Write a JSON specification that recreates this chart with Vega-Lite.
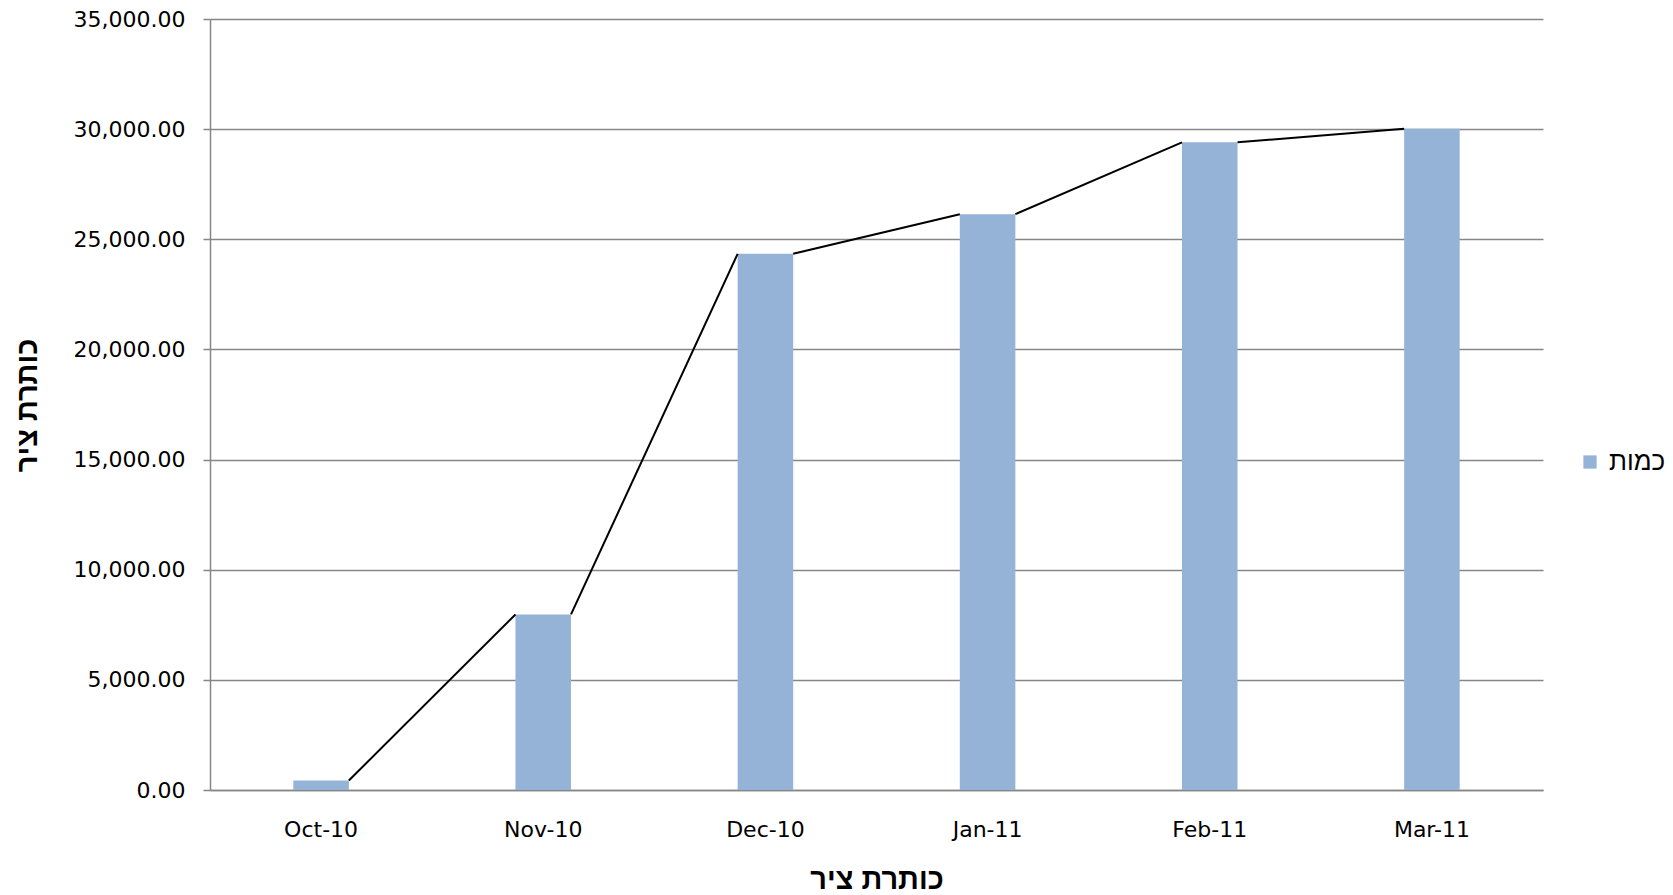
{
  "$schema": "https://vega.github.io/schema/vega-lite/v6.json",
  "autosize": "none",
  "padding": {"left": 210, "top": 19, "right": 130, "bottom": 105},
  "width": 1333,
  "height": 771,
  "background": "white",
  "config": {
    "view": {"stroke": null},
    "font": "DejaVu Sans"
  },
  "data": {
    "values": [
      {"month": "Oct-10", "value": 430, "series": "כמות"},
      {"month": "Nov-10", "value": 7970, "series": "כמות"},
      {"month": "Dec-10", "value": 24340, "series": "כמות"},
      {"month": "Jan-11", "value": 26140, "series": "כמות"},
      {"month": "Feb-11", "value": 29400, "series": "כמות"},
      {"month": "Mar-11", "value": 30020, "series": "כמות"}
    ]
  },
  "layer": [
    {
      "mark": {"type": "bar", "width": {"band": 0.25}},
      "encoding": {
        "x": {
          "field": "month",
          "type": "ordinal",
          "sort": null,
          "scale": {"paddingInner": 0, "paddingOuter": 0},
          "axis": {
            "title": "כותרת ציר",
            "titleFont": "Liberation Sans",
            "titleFontSize": 29,
            "titleFontWeight": "bold",
            "titleColor": "#000000",
            "titleY": 89,
            "titleBaseline": "middle",
            "labelAngle": 0,
            "labelFont": "DejaVu Sans",
            "labelFontSize": 22,
            "labelColor": "#000000",
            "labelPadding": 29,
            "ticks": false,
            "domainColor": "#868686",
            "domainWidth": 1.5,
            "grid": false
          }
        },
        "y": {
          "field": "value",
          "type": "quantitative",
          "scale": {"domain": [0, 35000], "nice": false},
          "axis": {
            "title": "כותרת ציר",
            "titleFont": "Liberation Sans",
            "titleFontSize": 29,
            "titleFontWeight": "bold",
            "titleColor": "#000000",
            "titleX": -183,
            "titleY": 386,
            "titleBaseline": "middle",
            "values": [0, 5000, 10000, 15000, 20000, 25000, 30000, 35000],
            "format": ",.2f",
            "labelFont": "DejaVu Sans",
            "labelFontSize": 22,
            "labelColor": "#000000",
            "labelPadding": 18,
            "tickSize": 7,
            "tickColor": "#868686",
            "tickWidth": 1.5,
            "domainColor": "#868686",
            "domainWidth": 1.5,
            "grid": true,
            "gridColor": "#868686",
            "gridWidth": 1.5
          }
        },
        "color": {
          "field": "series",
          "type": "nominal",
          "scale": {"range": ["#95b3d7"]},
          "legend": {
            "title": null,
            "orient": "none",
            "legendX": 1367,
            "legendY": 430,
            "symbolType": "square",
            "symbolSize": 175,
            "symbolStrokeWidth": 0,
            "labelFont": "Liberation Sans",
            "labelFontSize": 26,
            "labelColor": "#000000",
            "labelOffset": 6
          }
        }
      }
    },
    {
      "transform": [
        {"window": [
          {"op": "lead", "field": "month", "as": "nextMonth"},
          {"op": "lead", "field": "value", "as": "nextValue"}
        ]},
        {"filter": "datum.nextValue != null"}
      ],
      "mark": {"type": "rule", "color": "#000000", "strokeWidth": 2},
      "encoding": {
        "x": {"field": "month", "type": "ordinal", "sort": null, "bandPosition": 0.625},
        "x2": {"field": "nextMonth", "bandPosition": 0.375},
        "y": {"field": "value", "type": "quantitative"},
        "y2": {"field": "nextValue"}
      }
    }
  ]
}
